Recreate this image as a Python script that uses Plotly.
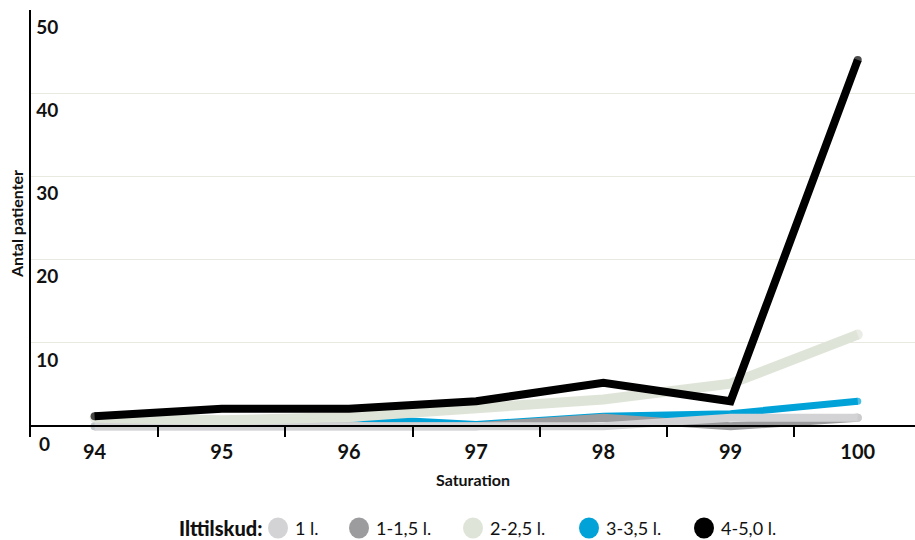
import plotly.graph_objects as go

# Saturation categories on the x axis
saturation = ["94", "95", "96", "97", "98", "99", "100"]

# Number of patients per oxygen-supplement group
series_names = ["1 l.", "1-1,5 l.", "2-2,5 l.", "3-3,5 l.", "4-5,0 l."]
vals_1 = [0, 0, 0, 0, 0, 1, 1]
vals_1_15 = [0, 0, 0, 0, 1, 0, 1]
vals_2_25 = [1, 0.7, 1.1, 2, 3.2, 5.1, 11]
vals_3_35 = [0, 0, 1, 0.2, 1.2, 1.5, 3]
vals_4_5 = [1.2, 2.1, 2.1, 3, 5.2, 3, 44]
y_ticks = [0, 10, 20, 30, 40, 50]

series_values = [vals_1, vals_1_15, vals_2_25, vals_3_35, vals_4_5]
colors = ["#d3d3d5", "#9c9c9e", "#dfe4d8", "#00a2d8", "#000000"]
line_widths = [8, 8, 10, 7, 8]
draw_order = [3, 1, 0, 2, 4]

FONT = "Lato"
INK = "#111111"

# plot-area geometry in pixels (used for the hand-built legend)
PLOT_L, PLOT_R, PLOT_T, PLOT_B = 31, 915, 10, 437
W, H = 915, 540
LABEL_DROP = 17  # y tick labels sit just below their gridline


def px_x(px):
    return (px - PLOT_L) / (PLOT_R - PLOT_L)


def px_y(py):
    return (PLOT_B - py) / (PLOT_B - PLOT_T)


fig = go.Figure()

for i in draw_order:
    w = line_widths[i]
    n = len(saturation)
    cap_sizes = [w] + [0] * (n - 2) + [w]
    fig.add_trace(go.Scatter(
        x=saturation,
        y=series_values[i],
        name=series_names[i],
        mode="lines+markers",
        line=dict(color=colors[i], width=w),
        marker=dict(color=colors[i], size=cap_sizes, line=dict(width=0)),
        showlegend=False,
        hoverinfo="x+y+name",
    ))

# the lowest y label falls under the x axis, so place it as an annotation
annotations = [dict(
    text=str(y_ticks[0]), x=0, y=y_ticks[0], xref="paper", yref="y",
    xanchor="left", yanchor="middle", xshift=6, yshift=-LABEL_DROP,
    showarrow=False, font=dict(family=FONT, size=19, color=INK, weight="bold"),
)]

# legend: circles and labels along the bottom
legend_cx = [278, 359, 473, 589, 704]
legend_cy = 528
shapes = []
annotations.append(dict(
    text="Ilttilskud:", x=px_x(264), y=px_y(legend_cy),
    xref="paper", yref="paper", xanchor="right", yanchor="middle",
    showarrow=False, font=dict(family=FONT, size=20, color=INK, weight=900),
))
for name, col, cx in zip(series_names, colors, legend_cx):
    shapes.append(dict(
        type="circle", xref="paper", yref="paper",
        xsizemode="pixel", ysizemode="pixel",
        xanchor=px_x(cx), yanchor=px_y(legend_cy),
        x0=-10, x1=10, y0=-10.5, y1=10.5,
        fillcolor=col, line=dict(width=0),
    ))
    annotations.append(dict(
        text=name, x=px_x(cx + 15), y=px_y(legend_cy),
        xref="paper", yref="paper", xanchor="left", yanchor="middle",
        showarrow=False, font=dict(family=FONT, size=18, color=INK),
    ))

y_lo = -1.3
fig.update_layout(
    width=W, height=H,
    margin=dict(l=PLOT_L, r=W - PLOT_R, t=PLOT_T, b=H - PLOT_B, autoexpand=False),
    paper_bgcolor="white", plot_bgcolor="white",
    font=dict(family=FONT, color=INK),
    shapes=shapes,
    annotations=annotations,
    xaxis=dict(
        type="category",
        range=[-0.5, 6.45],
        anchor="free",
        position=(0 - y_lo) / (50 - y_lo),
        showline=True, linecolor="#000000", linewidth=2,
        ticks="outside", tickson="boundaries", ticklen=10,
        tickcolor="#000000", tickwidth=1.5,
        ticklabelstandoff=8,
        showgrid=False,
        tickfont=dict(family=FONT, size=20, color=INK, weight="bold"),
        title=dict(text="<b>Saturation</b>", standoff=12,
                   font=dict(family=FONT, size=16, color=INK)),
    ),
    yaxis=dict(
        range=[y_lo, 50],
        tickvals=y_ticks,
        ticks="",
        ticklabelposition="inside",
        ticklabelshift=LABEL_DROP,
        ticklabelstandoff=6,
        showline=True, linecolor="#000000", linewidth=2,
        showgrid=True, gridcolor="#e9e9e2", gridwidth=1,
        zeroline=False,
        automargin=False,
        tickfont=dict(family=FONT, size=19, color=INK, weight="bold"),
        title=dict(text="<b>Antal patienter</b>", standoff=9,
                   font=dict(family=FONT, size=16, color=INK)),
    ),
)

fig.write_html("out.html")
